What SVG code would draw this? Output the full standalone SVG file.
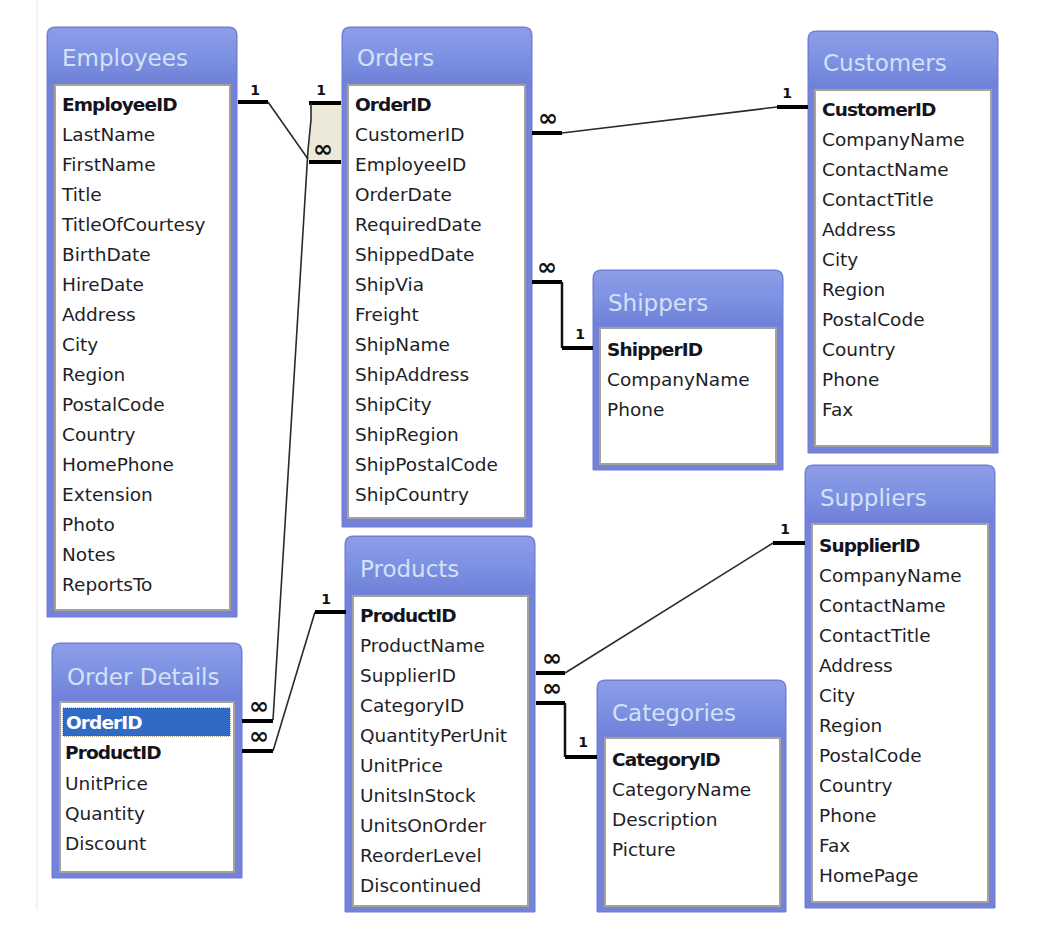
<svg xmlns="http://www.w3.org/2000/svg" width="1040" height="936" viewBox="0 0 1040 936">
<defs>
<linearGradient id="hdr" x1="0" y1="0" x2="0" y2="1">
<stop offset="0" stop-color="#8e9ce8"/>
<stop offset="0.5" stop-color="#7c92e2"/>
<stop offset="1" stop-color="#6f80d8"/>
</linearGradient>
<style>
.frame{fill:#7482da;stroke:#6d7bd4;stroke-width:1}
.head{fill:url(#hdr)}
.title{font-family:"DejaVu Sans",Verdana,sans-serif;font-size:23px;fill:#d6e0f7}
.list{fill:#ffffff;stroke:#a3a39a;stroke-width:2}
.f{font-family:"DejaVu Sans",Verdana,sans-serif;font-size:18.5px;fill:#1e1e28}
.k{font-weight:bold;letter-spacing:-0.9px;fill:#141420}
.stub{stroke:#000;stroke-width:4;fill:none}
.ln{stroke:#2a2a2a;stroke-width:1.6;fill:none}
.lnb{stroke:#111;stroke-width:2.5;fill:none}
.one{font-family:"DejaVu Sans",Verdana,sans-serif;font-size:14px;font-weight:bold;fill:#111;text-anchor:middle}
.many{font-family:"DejaVu Sans",Verdana,sans-serif;font-size:24px;font-weight:bold;fill:#111;text-anchor:middle}
</style>
</defs>
<rect width="1040" height="936" fill="#ffffff"/>
<line x1="37" y1="0" x2="37" y2="910" stroke="#e6e6e6" stroke-width="1"/>

<g id="Employees">
<path class="frame" d="M47,617 V35 Q47,27 55,27 H229 Q237,27 237,35 V617 Z"/>
<path class="head" d="M48,83 V35 Q48,28 55,28 H229 Q236,28 236,35 V83 Z"/>
<text class="title" x="62" y="66">Employees</text>
<rect class="list" x="55" y="85" width="175" height="525"/>
<text class="f k" x="62" y="111">EmployeeID</text>
<text class="f" x="62" y="141">LastName</text>
<text class="f" x="62" y="171">FirstName</text>
<text class="f" x="62" y="201">Title</text>
<text class="f" x="62" y="231">TitleOfCourtesy</text>
<text class="f" x="62" y="261">BirthDate</text>
<text class="f" x="62" y="291">HireDate</text>
<text class="f" x="62" y="321">Address</text>
<text class="f" x="62" y="351">City</text>
<text class="f" x="62" y="381">Region</text>
<text class="f" x="62" y="411">PostalCode</text>
<text class="f" x="62" y="441">Country</text>
<text class="f" x="62" y="471">HomePhone</text>
<text class="f" x="62" y="501">Extension</text>
<text class="f" x="62" y="531">Photo</text>
<text class="f" x="62" y="561">Notes</text>
<text class="f" x="62" y="591">ReportsTo</text>
</g>

<g id="Orders">
<path class="frame" d="M342,527 V35 Q342,27 350,27 H524 Q532,27 532,35 V527 Z"/>
<path class="head" d="M343,83 V35 Q343,28 350,28 H524 Q531,28 531,35 V83 Z"/>
<text class="title" x="357" y="66">Orders</text>
<rect class="list" x="348" y="85" width="177" height="433"/>
<text class="f k" x="355" y="111">OrderID</text>
<text class="f" x="355" y="141">CustomerID</text>
<text class="f" x="355" y="171">EmployeeID</text>
<text class="f" x="355" y="201">OrderDate</text>
<text class="f" x="355" y="231">RequiredDate</text>
<text class="f" x="355" y="261">ShippedDate</text>
<text class="f" x="355" y="291">ShipVia</text>
<text class="f" x="355" y="321">Freight</text>
<text class="f" x="355" y="351">ShipName</text>
<text class="f" x="355" y="381">ShipAddress</text>
<text class="f" x="355" y="411">ShipCity</text>
<text class="f" x="355" y="441">ShipRegion</text>
<text class="f" x="355" y="471">ShipPostalCode</text>
<text class="f" x="355" y="501">ShipCountry</text>
</g>

<g id="Customers">
<path class="frame" d="M808,453 V39 Q808,31 816,31 H990 Q998,31 998,39 V453 Z"/>
<path class="head" d="M809,88 V39 Q809,32 816,32 H990 Q997,32 997,39 V88 Z"/>
<text class="title" x="823" y="71">Customers</text>
<rect class="list" x="815" y="90" width="176" height="356"/>
<text class="f k" x="822" y="116">CustomerID</text>
<text class="f" x="822" y="146">CompanyName</text>
<text class="f" x="822" y="176">ContactName</text>
<text class="f" x="822" y="206">ContactTitle</text>
<text class="f" x="822" y="236">Address</text>
<text class="f" x="822" y="266">City</text>
<text class="f" x="822" y="296">Region</text>
<text class="f" x="822" y="326">PostalCode</text>
<text class="f" x="822" y="356">Country</text>
<text class="f" x="822" y="386">Phone</text>
<text class="f" x="822" y="416">Fax</text>
</g>

<g id="Shippers">
<path class="frame" d="M593,470 V278 Q593,270 601,270 H775 Q783,270 783,278 V470 Z"/>
<path class="head" d="M594,326 V278 Q594,271 601,271 H775 Q782,271 782,278 V326 Z"/>
<text class="title" x="608" y="311">Shippers</text>
<rect class="list" x="600" y="328" width="176" height="136"/>
<text class="f k" x="607" y="356">ShipperID</text>
<text class="f" x="607" y="386">CompanyName</text>
<text class="f" x="607" y="416">Phone</text>
</g>

<g id="OrderDetails">
<path class="frame" d="M52,878 V651 Q52,643 60,643 H234 Q242,643 242,651 V878 Z"/>
<path class="head" d="M53,700 V651 Q53,644 60,644 H234 Q241,644 241,651 V700 Z"/>
<text class="title" x="67" y="685">Order Details</text>
<rect class="list" x="60" y="702" width="174" height="170"/>
<rect x="63" y="708" width="167" height="28" fill="#316ac5" stroke="#6b5a20" stroke-width="1" stroke-dasharray="1 1"/>
<text class="f k" x="66" y="729" style="fill:#ffffff">OrderID</text>
<text class="f k" x="65" y="759">ProductID</text>
<text class="f" x="65" y="790">UnitPrice</text>
<text class="f" x="65" y="820">Quantity</text>
<text class="f" x="65" y="850">Discount</text>
</g>

<g id="Products">
<path class="frame" d="M345,912 V544 Q345,536 353,536 H527 Q535,536 535,544 V912 Z"/>
<path class="head" d="M346,594 V544 Q346,537 353,537 H527 Q534,537 534,544 V594 Z"/>
<text class="title" x="360" y="577">Products</text>
<rect class="list" x="353" y="596" width="175" height="310"/>
<text class="f k" x="360" y="622">ProductID</text>
<text class="f" x="360" y="652">ProductName</text>
<text class="f" x="360" y="682">SupplierID</text>
<text class="f" x="360" y="712">CategoryID</text>
<text class="f" x="360" y="742">QuantityPerUnit</text>
<text class="f" x="360" y="772">UnitPrice</text>
<text class="f" x="360" y="802">UnitsInStock</text>
<text class="f" x="360" y="832">UnitsOnOrder</text>
<text class="f" x="360" y="862">ReorderLevel</text>
<text class="f" x="360" y="892">Discontinued</text>
</g>

<g id="Suppliers">
<path class="frame" d="M805,908 V473 Q805,465 813,465 H987 Q995,465 995,473 V908 Z"/>
<path class="head" d="M806,522 V473 Q806,466 813,466 H987 Q994,466 994,473 V522 Z"/>
<text class="title" x="820" y="506">Suppliers</text>
<rect class="list" x="812" y="524" width="176" height="378"/>
<text class="f k" x="819" y="552">SupplierID</text>
<text class="f" x="819" y="582">CompanyName</text>
<text class="f" x="819" y="612">ContactName</text>
<text class="f" x="819" y="642">ContactTitle</text>
<text class="f" x="819" y="672">Address</text>
<text class="f" x="819" y="702">City</text>
<text class="f" x="819" y="732">Region</text>
<text class="f" x="819" y="762">PostalCode</text>
<text class="f" x="819" y="792">Country</text>
<text class="f" x="819" y="822">Phone</text>
<text class="f" x="819" y="852">Fax</text>
<text class="f" x="819" y="882">HomePage</text>
</g>

<g id="Categories">
<path class="frame" d="M597,912 V688 Q597,680 605,680 H778 Q786,680 786,688 V912 Z"/>
<path class="head" d="M598,736 V688 Q598,681 605,681 H778 Q785,681 785,688 V736 Z"/>
<text class="title" x="612" y="721">Categories</text>
<rect class="list" x="605" y="738" width="175" height="168"/>
<text class="f k" x="612" y="766">CategoryID</text>
<text class="f" x="612" y="796">CategoryName</text>
<text class="f" x="612" y="826">Description</text>
<text class="f" x="612" y="856">Picture</text>
</g>

<g id="connectors">
<polygon points="311,105 341,105 341,160 309,160 308,150 311,120" fill="#ece9d8"/>
<!-- Employees.EmployeeID to Orders.EmployeeID -->
<line class="stub" x1="238" y1="102" x2="268" y2="102"/>
<path class="ln" d="M268,102 L308,159"/>
<line class="stub" x1="309" y1="162" x2="341" y2="162"/>
<text class="one" x="255" y="95">1</text>
<text class="many" x="323" y="157">∞</text>
<!-- Orders.OrderID to Order Details.OrderID -->
<line class="stub" x1="309" y1="103" x2="341" y2="103"/>
<path class="ln" d="M311,103 L311,120 L308,150 L273,720"/>
<line class="stub" x1="242" y1="721" x2="273" y2="721"/>
<text class="one" x="321" y="95">1</text>
<text class="many" x="259" y="714">∞</text>
<!-- Products.ProductID to Order Details.ProductID -->
<line class="stub" x1="242" y1="751" x2="273" y2="751"/>
<path class="ln" d="M273,751 L315,612"/>
<line class="stub" x1="315" y1="612" x2="346" y2="612"/>
<text class="one" x="326" y="604">1</text>
<text class="many" x="259" y="744">∞</text>
<!-- Orders.CustomerID to Customers.CustomerID -->
<line class="stub" x1="532" y1="133" x2="562" y2="133"/>
<path class="ln" d="M562,133 L777,107"/>
<line class="stub" x1="777" y1="107" x2="808" y2="107"/>
<text class="one" x="787" y="98">1</text>
<text class="many" x="548" y="126">∞</text>
<!-- Orders.ShipVia to Shippers.ShipperID -->
<line class="stub" x1="532" y1="282" x2="562" y2="282"/>
<path class="lnb" d="M562,282 V348"/>
<line class="stub" x1="562" y1="348" x2="593" y2="348"/>
<text class="one" x="580" y="339">1</text>
<text class="many" x="547" y="275">∞</text>
<!-- Products.SupplierID to Suppliers.SupplierID -->
<line class="stub" x1="536" y1="673" x2="565" y2="673"/>
<path class="ln" d="M565,673 L773,543"/>
<line class="stub" x1="773" y1="543" x2="805" y2="543"/>
<text class="one" x="785" y="534">1</text>
<text class="many" x="552" y="666">∞</text>
<!-- Products.CategoryID to Categories.CategoryID -->
<line class="stub" x1="536" y1="703" x2="565" y2="703"/>
<path class="lnb" d="M565,703 V757"/>
<line class="stub" x1="565" y1="757" x2="597" y2="757"/>
<text class="one" x="583" y="747">1</text>
<text class="many" x="552" y="696">∞</text>
</g>
</svg>
